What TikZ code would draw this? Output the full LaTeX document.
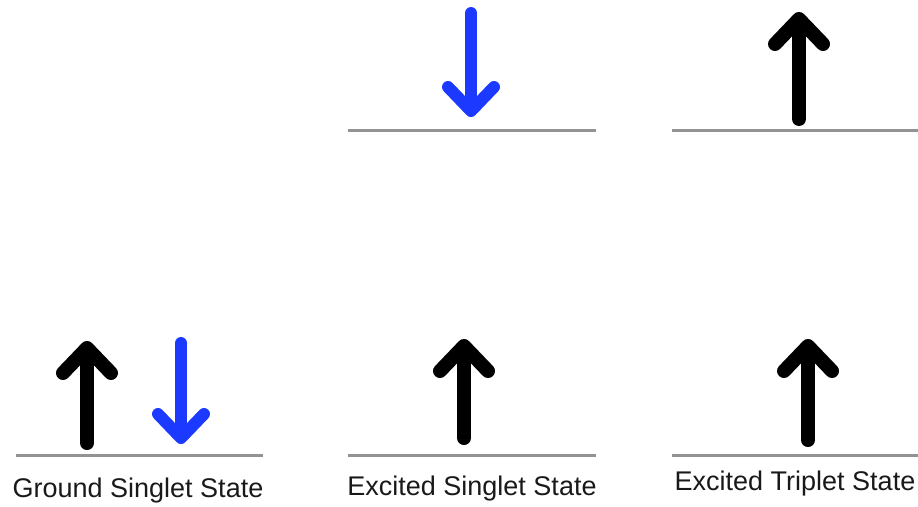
\documentclass[tikz,border=0pt]{standalone}
\usepackage{fontspec}
\setmainfont{Liberation Sans}
\usetikzlibrary{arrows.meta}
\definecolor{spinblue}{RGB}{28,58,255}
\tikzset{
  uptip/.tip={Straight Barb[length=25pt,width=48pt,line width=14pt,round]},
  downtip/.tip={Straight Barb[length=24pt,width=46pt,line width=12pt,round]},
  level/.style={draw=gray!85, line width=3pt},
  spinup/.style={-uptip, line width=14pt, line cap=round},
  spindown/.style={-downtip, line width=12pt, line cap=round, draw=spinblue},
  statelabel/.style={font=\fontsize{27}{30}\selectfont, text=black!90}
}
\begin{document}
\begin{tikzpicture}[x=1pt,y=-1pt]
  \useasboundingbox (0,0) rectangle (918,506);
  % levels
  \coordinate (g1) at (16,455);   \coordinate (g2) at (263,455);
  \coordinate (sl1) at (348,455); \coordinate (sl2) at (596,455);
  \coordinate (su1) at (348,130); \coordinate (su2) at (596,130);
  \coordinate (tl1) at (672,455); \coordinate (tl2) at (918,455);
  \coordinate (tu1) at (672,130); \coordinate (tu2) at (918,130);
  \draw[level] (g1) -- (g2);
  \draw[level] (sl1) -- (sl2);
  \draw[level] (su1) -- (su2);
  \draw[level] (tl1) -- (tl2);
  \draw[level] (tu1) -- (tu2);
  % spins
  \coordinate (ga0) at (87,443);  \coordinate (ga1) at (87,341);
  \coordinate (gb0) at (181,343); \coordinate (gb1) at (181,444);
  \coordinate (sa0) at (464,438); \coordinate (sa1) at (464,339);
  \coordinate (sb0) at (471,13);  \coordinate (sb1) at (471,117);
  \coordinate (ta0) at (808,440); \coordinate (ta1) at (808,339);
  \coordinate (tb0) at (799,119); \coordinate (tb1) at (799,12);
  \draw[spinup] (ga0) -- (ga1);
  \draw[spindown] (gb0) -- (gb1);
  \draw[spinup] (sa0) -- (sa1);
  \draw[spindown] (sb0) -- (sb1);
  \draw[spinup] (ta0) -- (ta1);
  \draw[spinup] (tb0) -- (tb1);
  % labels
  \node[statelabel] (glab) at (138,491) {Ground Singlet State};
  \node[statelabel] (slab) at (472,489) {Excited Singlet State};
  \node[statelabel] (tlab) at (795,484) {Excited Triplet State};
\end{tikzpicture}
\end{document}
